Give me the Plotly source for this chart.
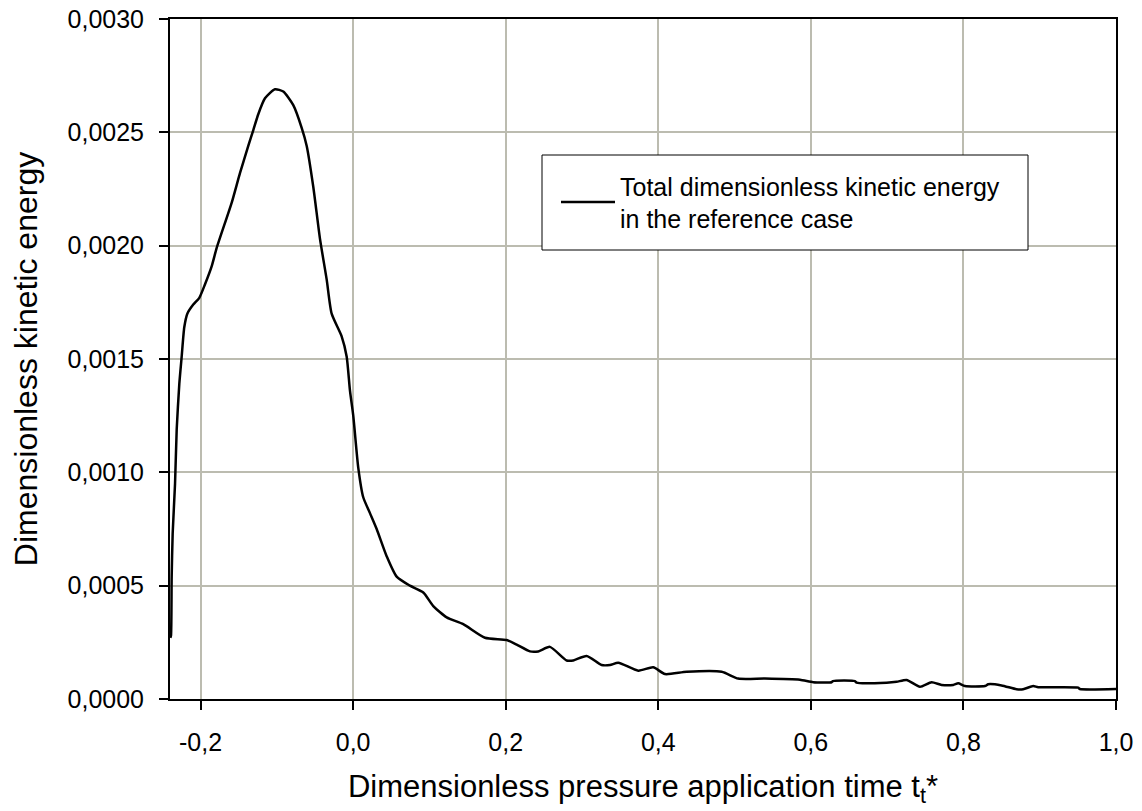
import plotly.graph_objects as go

# Dimensionless pressure application time t_t*
t_star = [-0.2395, -0.2387, -0.2378, -0.2365, -0.2334, -0.2312, -0.2278, -0.2247, -0.2213,
          -0.2173, -0.2095, -0.2016, -0.1941, -0.1853, -0.1788, -0.1591, -0.1483, -0.1374,
          -0.1308, -0.1243, -0.1155, -0.1024, -0.0915, -0.0784, -0.0674, -0.0608, -0.0522,
          -0.0434, -0.0346, -0.0281, -0.0150, -0.0084, -0.0041, 0.0002, 0.0068, 0.0133,
          0.0221, 0.0309, 0.0440, 0.0571, 0.0745, 0.0920, 0.1051, 0.1227, 0.1444, 0.1728,
          0.2013, 0.2144, 0.2318, 0.2427, 0.2580, 0.2799, 0.2886, 0.3061, 0.3258, 0.3367,
          0.3476, 0.3738, 0.3934, 0.4088, 0.4372, 0.4831, 0.5048, 0.5398, 0.5857, 0.6031,
          0.6272, 0.6289, 0.6578, 0.6600, 0.6993, 0.7124, 0.7255, 0.7430, 0.7583, 0.7714,
          0.7866, 0.7932, 0.8019, 0.8282, 0.8325, 0.8500, 0.8697, 0.8783, 0.8914, 0.8980,
          0.9504, 0.9527, 1.0000]

# Total dimensionless kinetic energy in the reference case
kinetic_energy = [0.00027, 0.00028, 0.00054, 0.00073, 0.00095, 0.00119, 0.00139, 0.00151, 0.00164,
                  0.00170, 0.00174, 0.00177, 0.00183, 0.00191, 0.00199, 0.00219, 0.00232, 0.00244,
                  0.00251, 0.00258, 0.00265, 0.00269, 0.00268, 0.00262, 0.00252, 0.00244, 0.00226,
                  0.00203, 0.00185, 0.00170, 0.00160, 0.00151, 0.00136, 0.00125, 0.00102, 0.00089,
                  0.00082, 0.00075, 0.00063, 0.00054, 0.00050, 0.00047, 0.00041, 0.00036, 0.00033, 0.00027,
                  0.00026, 0.00024, 0.00021, 0.00021, 0.00023, 0.00017, 0.00017, 0.00019, 0.00015, 0.00015,
                  0.00016, 0.000125, 0.00014, 0.00011, 0.00012, 0.00012, 0.00009, 0.00009, 0.000085, 0.000074,
                  0.000074, 0.000079, 0.000079, 0.000072, 0.000072, 0.000076, 0.000084, 0.000054, 0.000074, 0.000062,
                  0.000062, 0.000069, 0.000057, 0.000057, 0.000065, 0.000060, 0.000043, 0.000043, 0.000057, 0.000052,
                  0.000050, 0.000044, 0.000044]

x_tick_vals = [-0.2, 0.0, 0.2, 0.4, 0.6, 0.8, 1.0]
x_tick_text = ["-0,2", "0,0", "0,2", "0,4", "0,6", "0,8", "1,0"]
y_tick_vals = [0.0, 0.0005, 0.0010, 0.0015, 0.0020, 0.0025, 0.0030]
y_tick_text = ["0,0000", "0,0005", "0,0010", "0,0015", "0,0020", "0,0025", "0,0030"]

series_name = "Total dimensionless kinetic energy<br>in the reference case"
x_title = "Dimensionless pressure application time t<sub>t</sub>*"
y_title = "Dimensionless kinetic energy"

FONT = "Liberation Sans, Arial, sans-serif"
GRID = "#bcbcb0"

fig = go.Figure()
fig.add_trace(go.Scatter(
    x=t_star, y=kinetic_energy, mode="lines", name=series_name,
    line=dict(color="black", width=2.5, shape="spline", smoothing=0.6),
))

axis_common = dict(
    showline=True, linecolor="black", linewidth=2, mirror=True,
    ticks="outside", ticklen=9, tickwidth=2, tickcolor="black",
    showgrid=True, gridcolor=GRID, gridwidth=2, zeroline=False,
    tickfont=dict(family=FONT, size=25, color="black"),
)

fig.update_xaxes(range=[-0.24, 1.0], tickvals=x_tick_vals, ticktext=x_tick_text,
                 title=dict(text=x_title, font=dict(family=FONT, size=31, color="black"), standoff=20),
                 ticklabelstandoff=11, **axis_common)
fig.update_yaxes(range=[0, 0.003], tickvals=y_tick_vals, ticktext=y_tick_text,
                 title=dict(text=y_title, font=dict(family=FONT, size=32, color="black"), standoff=20),
                 ticklabelstandoff=10, **axis_common)

# legend frame
fig.add_shape(type="rect", xref="paper", yref="paper",
              x0=(542 - 170) / 946, x1=(1028 - 170) / 946,
              y0=(699 - 250) / 680, y1=(699 - 155) / 680,
              line=dict(color="black", width=1), fillcolor="white", layer="above")

fig.update_layout(
    width=1142, height=811,
    margin=dict(l=170, r=26, t=19, b=112, autoexpand=False),
    paper_bgcolor="white", plot_bgcolor="white",
    font=dict(family=FONT, color="black"),
    showlegend=True,
    legend=dict(x=(556 - 170) / 946, y=(699 - 163) / 680, xanchor="left", yanchor="top",
                bgcolor="rgba(0,0,0,0)", borderwidth=0,
                font=dict(family=FONT, size=25, color="black"), itemwidth=54),
)

fig.write_html("out.html", config={"displayModeBar": False},
               post_script="document.body.style.margin='0px';")
